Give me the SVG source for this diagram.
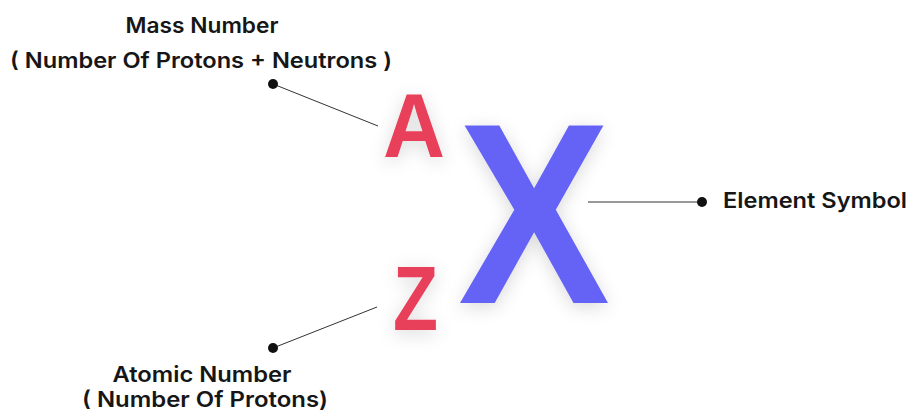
<svg xmlns="http://www.w3.org/2000/svg" width="912" height="417" viewBox="0 0 912 417">
<defs>
<style>
.lbl{font-family:Inter,"Liberation Sans",sans-serif;font-weight:600;font-size:21.5px;fill:#161616;text-anchor:middle}
.big{font-family:"Liberation Sans",Arial,sans-serif;font-weight:700}
.red{fill:#e8415a}
.blue{fill:#6563f5}
.conn{stroke:#333;stroke-width:1;fill:none}
.dot{fill:#111}
</style>
<filter id="sh" x="-30%" y="-30%" width="160%" height="160%">
<feDropShadow dx="0" dy="4" stdDeviation="9" flood-color="#000" flood-opacity="0.15"/>
</filter>
</defs>
<rect width="912" height="417" fill="#fff"/>
<g id="connectors">
<line class="conn" x1="273" y1="84" x2="378" y2="126"/>
<line class="conn" x1="588" y1="202" x2="702" y2="202"/>
<line class="conn" x1="273" y1="348" x2="377" y2="307"/>
<circle class="dot" cx="273" cy="84" r="5"/>
<circle class="dot" cx="702" cy="202" r="5"/>
<circle class="dot" cx="273" cy="348" r="5"/>
</g>
<g id="symbol-A" filter="url(#sh)">
<text class="big red" x="383" y="157" font-size="90" textLength="62" lengthAdjust="spacingAndGlyphs">A</text>
</g>
<g id="symbol-Z" filter="url(#sh)">
<text class="big red" x="393" y="330" font-size="90" textLength="45" lengthAdjust="spacingAndGlyphs">Z</text>
</g>
<g id="symbol-X" filter="url(#sh)">
<text class="big blue" x="458" y="303" font-size="258" textLength="152" lengthAdjust="spacingAndGlyphs">X</text>
</g>
<g id="mass-number">
<text class="lbl" x="202" y="33" textLength="153" lengthAdjust="spacingAndGlyphs">Mass Number</text>
<text class="lbl" x="201" y="68" textLength="382" lengthAdjust="spacingAndGlyphs">( Number Of Protons + Neutrons )</text>
</g>
<g id="element-symbol">
<text class="lbl" x="815" y="208" textLength="184" lengthAdjust="spacingAndGlyphs">Element Symbol</text>
</g>
<g id="atomic-number">
<text class="lbl" x="202" y="382" textLength="179" lengthAdjust="spacingAndGlyphs">Atomic Number</text>
<text class="lbl" x="205" y="407" textLength="246" lengthAdjust="spacingAndGlyphs">( Number Of Protons)</text>
</g>
</svg>
